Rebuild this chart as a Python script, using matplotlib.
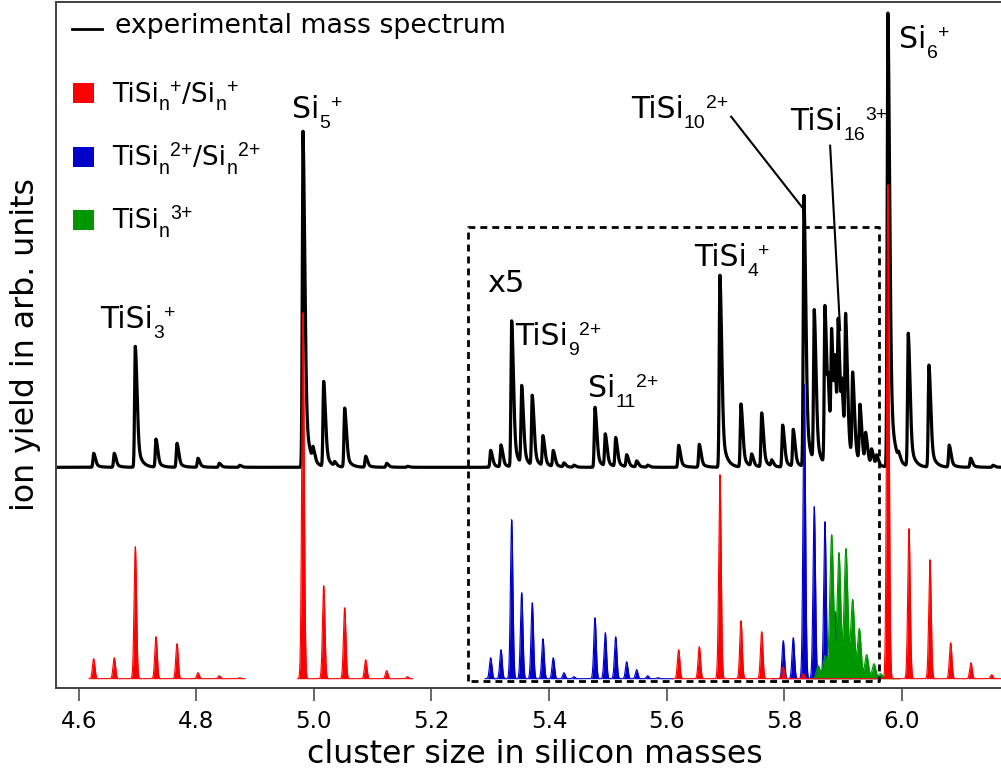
import numpy as np
import matplotlib.pyplot as plt
from matplotlib.patches import Rectangle

# experimental spectrum: peak positions (cluster size in Si masses) and peak heights
exp_pos = [4.6255, 4.6605, 4.6963, 4.7315, 4.7672, 4.8029, 4.8391, 4.8738,
           4.9815, 4.9985, 5.0167, 5.0354, 5.0524, 5.0881, 5.1238, 5.1592,
           5.3007, 5.3182, 5.3364, 5.3534, 5.3714, 5.3896, 5.4071, 5.4253, 5.4423,
           5.4781, 5.4956, 5.5133, 5.5320, 5.5490, 5.5677,
           5.6204, 5.6555, 5.6906, 5.7264, 5.7446, 5.7616, 5.7786, 5.7973, 5.8153,
           5.8335, 5.8510, 5.8692, 5.8749, 5.8806, 5.8863, 5.8918, 5.8980, 5.9044,
           5.9163, 5.9287, 5.9384, 5.9486, 5.9571,
           5.9762, 5.9945, 6.0109, 6.0461, 6.0806, 6.1170, 6.1549]
exp_height = [14, 14, 121, 28, 24, 9, 4, 2,
              336, 12, 85, 4, 59, 11, 4, 1,
              17, 22, 146, 78, 70, 30, 16, 4, 2,
              60, 32, 29, 12, 6, 2,
              22, 23, 192, 63, 12, 54, 6, 42, 37,
              271, 151, 158, 50, 116, 75, 118, 55, 134,
              85, 57, 29, 15, 10,
              454, 6, 133, 102, 22, 9, 2]
exp_offset = 211.4

# simulated isotope patterns
red_pos = [4.6255, 4.6605, 4.6963, 4.7315, 4.7672, 4.8029, 4.8391, 4.8738,
           4.9815, 5.0167, 5.0524, 5.0881, 5.1238, 5.1592,
           5.6204, 5.6555, 5.6906, 5.7264, 5.7616, 5.7983, 5.8323,
           5.9762, 6.0121, 6.0478, 6.0830, 6.1175, 6.1527]
red_height = [20, 21, 132, 42, 35, 6, 3, 1,
              366, 93, 71, 19, 8, 2,
              29, 32, 204, 58, 47, 12, 5,
              494, 150, 119, 36, 16, 4]
red_ranges = [(4.6177, 4.8831), (4.9724, 5.1680), (5.6109, 6.1907)]

blue_pos = [5.3007, 5.3182, 5.3364, 5.3534, 5.3714, 5.3896, 5.4071, 5.4253, 5.4423,
            5.4781, 5.4956, 5.5133, 5.5320, 5.5490, 5.5677, 5.5852,
            5.7983, 5.8153, 5.8340, 5.8510, 5.8692, 5.8867, 5.9049, 5.9231, 5.9405]
blue_height = [21, 29, 159, 86, 76, 40, 21, 6, 2,
               61, 46, 42, 17, 9, 3, 1,
               38, 41, 294, 172, 157, 67, 30, 15, 6]
blue_ranges = [(5.2912, 5.6109), (5.7800, 5.9600)]

green_pos = [5.8578, 5.8692, 5.8806, 5.8930, 5.9049, 5.9163, 5.9276, 5.9401,
             5.9526, 5.9639, 5.9755]
green_height = [13, 23, 144, 126, 130, 79, 50, 24, 15, 5, 2]
green_ranges = [(5.8489, 5.9968)]

xticks = [4.6, 4.8, 5.0, 5.2, 5.4, 5.6, 5.8, 6.0]
xticklabels = ['4.6', '4.8', '5.0', '5.2', '5.4', '5.6', '5.8', '6.0']

legend_labels = [[('TiSi', 'base'), ('n', 'sub'), ('+', 'sup'), ('/Si', 'base'), ('n', 'sub'), ('+', 'sup')],
                 [('TiSi', 'base'), ('n', 'sub'), ('2+', 'sup'), ('/Si', 'base'), ('n', 'sub'), ('2+', 'sup')],
                 [('TiSi', 'base'), ('n', 'sub'), ('3+', 'sup')]]
legend_colors = ['#ff0000', '#0000c8', '#009600']

xmin, xmax = 4.5614, 6.1907


def exp_profile(x, pos, height):
    # tailing peak shape of the time-of-flight signal
    y = np.zeros_like(x)
    for p, h in zip(pos, height):
        dx = x - p
        left = np.exp(-dx**2 / (2 * 0.0012**2))
        right = 0.7 * np.exp(-dx**2 / (2 * 0.0030**2)) + 0.3 * np.exp(-np.clip(dx, 0, None) / 0.007)
        y += h * np.where(dx < 0, left, right)
    return y


def sim_profile(x, pos, height, width):
    y = np.zeros_like(x)
    for p, h in zip(pos, height):
        y += h * np.exp(-(x - p)**2 / (2 * width**2))
    return y


fig = plt.figure(figsize=(10.01, 7.69), dpi=100)
ax = fig.add_axes([56 / 1001, (769 - 687.7) / 769, 958 / 1001, 685.7 / 769])
ax.set_xlim(xmin, xmax)
ax.set_ylim(-9, 676.7)


def ax_x(px):
    return (px - 56) / 958


def ax_y(py):
    return (687.7 - py) / 685.7


def chem_label(x, y, parts, size, coords='data', script=0.65):
    # chain base text, subscripts and superscripts one after another
    prev = None
    for s, kind in parts:
        if kind == 'base':
            fs, fam, dy = size, 'DejaVu Sans', 0
        elif kind == 'sub':
            fs, fam, dy = size * script, 'Liberation Sans', -0.33 * size
        else:
            fs, fam, dy = size * script, 'Liberation Sans', 0.34 * size
        if prev is None:
            prev = ax.annotate(s, xy=(x, y), xycoords=coords, xytext=(0, dy),
                               textcoords='offset points', fontsize=fs, family=fam,
                               ha='left', va='baseline', zorder=5)
        else:
            prev = ax.annotate(s, xy=(1, y), xycoords=(prev, coords), xytext=(0.3, dy),
                               textcoords='offset points', fontsize=fs, family=fam,
                               ha='left', va='baseline', zorder=5)


# experimental trace
xs = np.linspace(xmin, xmax, 30000)
ax.plot(xs, exp_offset + exp_profile(xs, exp_pos, exp_height), color='black', lw=2.3, zorder=2)

# simulated patterns
for pos, height, ranges, color, width, z in [
        (blue_pos, blue_height, blue_ranges, '#0000c8', 0.0021, 3.0),
        (green_pos, green_height, green_ranges, '#009600', 0.0031, 3.1),
        (red_pos, red_height, red_ranges, '#ff0000', 0.0021, 3.2)]:
    for a, b in ranges:
        xg = np.linspace(a, b, 8000)
        yg = sim_profile(xg, pos, height, width)
        ax.fill_between(xg, 0, yg, color=color, lw=0, zorder=z)
        ax.plot(xg, yg, color=color, lw=0.8, zorder=z)

# magnified region
bx0, bx1, by0, by1 = 5.2628, 5.9616, -2, 452
ax.plot([bx0, bx0, bx1, bx1, bx0], [by0, by1, by1, by0, by0], color='black',
        lw=2.0, ls='--', dashes=(2.5, 1.8), zorder=4)
ax.text(5.2939, 386.4, 'x5', fontsize=22, ha='left', va='baseline')

# peak assignments
fs_ann = 21.5
chem_label(4.6357, 350.4, [('TiSi', 'base'), ('3', 'sub'), ('+', 'sup')], fs_ann)
chem_label(4.9622, 560.4, [('Si', 'base'), ('5', 'sub'), ('+', 'sup')], fs_ann)
chem_label(5.3420, 333.7, [('TiSi', 'base'), ('9', 'sub'), ('2+', 'sup')], fs_ann)
chem_label(5.4656, 281.4, [('Si', 'base'), ('11', 'sub'), ('2+', 'sup')], fs_ann)
chem_label(5.6464, 413.0, [('TiSi', 'base'), ('4', 'sub'), ('+', 'sup')], fs_ann)
chem_label(5.5388, 560.4, [('TiSi', 'base'), ('10', 'sub'), ('2+', 'sup')], fs_ann)
chem_label(5.8097, 548.7, [('TiSi', 'base'), ('16', 'sub'), ('3+', 'sup')], fs_ann)
chem_label(5.9956, 630.4, [('Si', 'base'), ('6', 'sub'), ('+', 'sup')], fs_ann)
ax.plot([5.7097, 5.8304], [562, 471.4], color='black', lw=1.5, zorder=5)
ax.plot([5.8780, 5.8950], [533, 348.7], color='black', lw=1.5, zorder=5)

# legend
ax.plot([ax_x(71.7), ax_x(101.7)], [ax_y(29.3)] * 2, transform=ax.transAxes,
        color='black', lw=2.0)
ax.text(ax_x(115), ax_y(33), 'experimental mass spectrum', transform=ax.transAxes,
        fontsize=19.3, ha='left', va='baseline')
for i, (parts, col) in enumerate(zip(legend_labels, legend_colors)):
    top = 83.3 + i * 63.3
    ax.add_patch(Rectangle((ax_x(73.3), ax_y(top + 20)), 20.7 / 958, 20 / 685.7,
                           transform=ax.transAxes, color=col, lw=0))
    chem_label(ax_x(111.7), ax_y(top + 18.4), parts, 19, coords='axes fraction', script=0.74)

# axes styling
for side in ['top', 'left', 'bottom']:
    ax.spines[side].set_color('#404040')
    ax.spines[side].set_linewidth(1.4)
ax.spines['right'].set_visible(False)
ax.set_yticks([])
ax.set_xticks(xticks)
ax.set_xticklabels(xticklabels)
ax.tick_params(axis='x', length=9.4, width=1.1, color='#404040', labelsize=16.5, pad=6.5)
ax.set_xlabel('cluster size in silicon masses', fontsize=22.7)
ax.xaxis.set_label_coords(0.5, ax_y(739))
ax.set_ylabel('ion yield in arb. units', fontsize=22.7)
ax.yaxis.set_label_coords(ax_x(41), 0.5)

fig.savefig('out.png', dpi=100)
